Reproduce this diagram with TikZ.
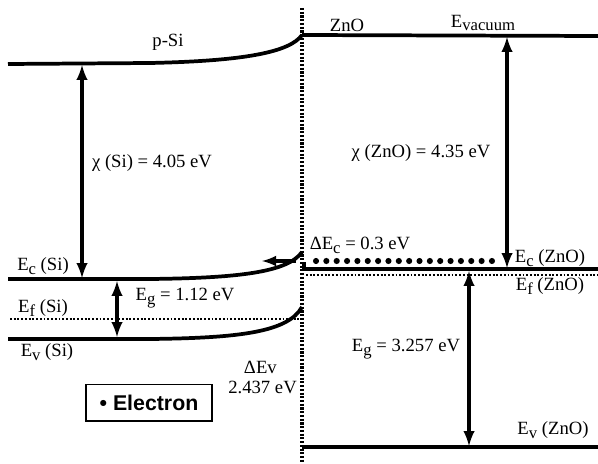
\documentclass[tikz,border=0pt]{standalone}
\usepackage{fontspec}
\setmainfont{Liberation Serif}
\newfontfamily\boxfont{Liberation Sans}
\usetikzlibrary{arrows,calc}
\newcommand{\lowidx}[1]{\raisebox{-0.45ex}{\fontsize{12.5}{13}\selectfont #1}}
\tikzset{
  level/.style={line width=2.8pt},
  fermi/.style={line width=2.2pt,dash pattern=on 1.4pt off 1.4pt},
  junction/.style={line width=2.6pt,dash pattern=on 1.6pt off 1.2pt},
  gaparrow/.style={line width=2.8pt,latex-latex},
  lbl/.style={font=\fontsize{14}{16}\selectfont,inner sep=0pt},
}

\begin{document}
\begin{tikzpicture}[x=0.75pt,y=-0.75pt]
\useasboundingbox (0,0) rectangle (598,463);

% Ορισμός των σημείων της διεπαφής και των επιπέδων.
\coordinate (JT) at (302,8);
\coordinate (JB) at (302,463);
\coordinate (VacL) at (8,64);
\coordinate (VacJ) at (302,35);
\coordinate (VacR) at (598,36);
\coordinate (EcL) at (8,279);
\coordinate (EcJ) at (302,252);
\coordinate (EfL) at (10,319);
\coordinate (EfJ) at (300,319);
\coordinate (EvL) at (8,339);
\coordinate (EvJ) at (302,307);
\coordinate (EcZa) at (304,262);
\coordinate (EcZb) at (304,269);
\coordinate (EcZR) at (598,269);
\coordinate (EfZL) at (306,275);
\coordinate (EfZR) at (598,275);
\coordinate (EvZL) at (302,447);
\coordinate (EvZR) at (598,447);

% Διεπαφή p-Si / ZnO.
\draw[junction] (JT) -- (JB);

% Ενεργειακά επίπεδα του p-Si (καμπύλωση κοντά στη διεπαφή).
\draw[level] (VacL) -- (150,63) .. controls (245,61) and (290,52) .. (VacJ);
\draw[level] (EcL) -- (150,279) .. controls (240,278) and (288,272) .. (EcJ);
\draw[fermi] (EfL) -- (EfJ);
\draw[level] (EvL) -- (150,339) .. controls (240,338) and (288,332) .. (EvJ);

% Ενεργειακά επίπεδα του ZnO.
\draw[level] (VacJ) -- (VacR);
\draw[level] (EcZa) -- (EcZb) -- (EcZR);
\draw[fermi] (EfZL) -- (EfZR);
\draw[level] (EvZL) -- (EvZR);

% Ηλεκτρόνια στη ζώνη αγωγιμότητας του ZnO.
\foreach \i in {0,...,17}
  \fill (316+\i*10.35,261) circle[radius=2.3pt];
\coordinate (ElA) at (296,261);
\coordinate (ElB) at (262,261);
\draw[line width=2.6pt,-latex] (ElA) -- (ElB);

% Βέλη για τις ενεργειακές διαφορές.
\draw[gaparrow] (82,65) coordinate (ChiSiT) -- (82,278) coordinate (ChiSiB);
\draw[gaparrow] (117,281) coordinate (EgSiT) -- (117,337) coordinate (EgSiB);
\draw[gaparrow] (507,37) coordinate (ChiZT) -- (507,268) coordinate (ChiZB);
\draw[gaparrow] (469,271) coordinate (EgZT) -- (469,446) coordinate (EgZB);

% Ονόματα υλικών και επιπέδων.
\node[lbl] (psi) at (168,42) {p-Si};
\node[lbl] (zno) at (347,25) {ZnO};
\node[lbl] (evac) at (483,23) {E\lowidx{vacuum}};
\node[lbl] (ecsi) at (43,266) {E\lowidx{c} (Si)};
\node[lbl] (efsi) at (43,308) {E\lowidx{f} (Si)};
\node[lbl] (evsi) at (47,352) {E\lowidx{v} (Si)};
\node[lbl] (eczno) at (550,258) {E\lowidx{c} (ZnO)};
\node[lbl] (efzno) at (550,286) {E\lowidx{f} (ZnO)};
\node[lbl] (evzno) at (553,430) {E\lowidx{v} (ZnO)};

% Τιμές των ενεργειακών διαφορών.
\node[lbl] (chisi) at (152,163) {χ (Si) = 4.05 eV};
\node[lbl] (chizno) at (421,153) {χ (ZnO) = 4.35 eV};
\node[lbl] (egsi) at (185,298) {E\lowidx{g} = 1.12 eV};
\node[lbl] (egzno) at (406,349) {E\lowidx{g} = 3.257 eV};
\node[lbl] (dec) at (360,245) {ΔE\lowidx{c} = 0.3 eV};
\node[lbl,anchor=east] (dev) at (277,367) {ΔEv};
\node[lbl,anchor=east] (devval) at (297,387) {2.437 eV};

% Υπόμνημα.
\node[draw,line width=1pt,minimum width=94.5pt,minimum height=27.5pt,
  font=\boxfont\bfseries\fontsize{16}{18}\selectfont] (legend) at (149,402.5) {• Electron};

\end{tikzpicture}
\end{document}
